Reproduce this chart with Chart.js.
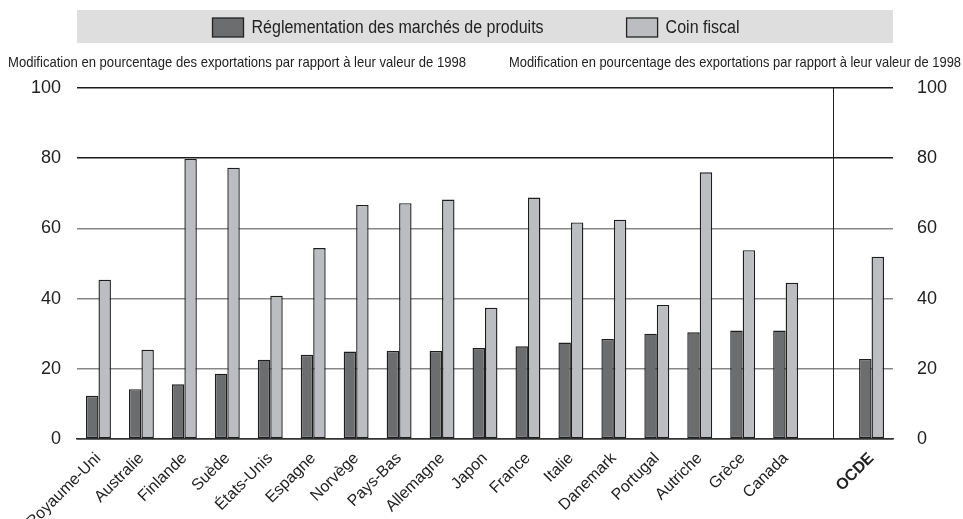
<!DOCTYPE html>
<html lang="fr">
<head>
<meta charset="UTF-8">
<title>Réglementation des marchés de produits et coin fiscal</title>
<script src="https://cdn.jsdelivr.net/npm/chart.js"></script>
<style>
  html, body { margin: 0; padding: 0; background: #fff; }
</style>
</head>
<body>
<canvas id="graphique" width="963" height="519"></canvas>
<script>
// Données : variation des exportations (% par rapport à 1998)
const pays = ['Royaume-Uni', 'Australie', 'Finlande', 'Suède', 'États-Unis', 'Espagne', 'Norvège',
  'Pays-Bas', 'Allemagne', 'Japon', 'France', 'Italie', 'Danemark', 'Portugal', 'Autriche',
  'Grèce', 'Canada', '', 'OCDE'];
const reglementation = [12.3, 14.2, 15.6, 18.6, 22.6, 24.0, 24.9, 25.1, 25.1, 25.9, 26.4, 27.5,
  28.5, 30.0, 30.4, 30.9, 30.9, null, 22.8];
const coinFiscal = [45.4, 25.4, 79.8, 77.3, 40.8, 54.4, 66.7, 67.2, 68.2, 37.4, 68.8, 61.7,
  62.5, 38.2, 76.0, 53.8, 44.5, null, 51.9];
const graduations = [0, 20, 40, 60, 80, 100];
const series = ['Réglementation des marchés de produits', 'Coin fiscal'];
const titreAxe = 'Modification en pourcentage des exportations par rapport à leur valeur de 1998';

const police = "'Liberation Sans', Arial, sans-serif";

// texte resserré horizontalement (police étroite simulée)
function texteEtroit(ctx, texte, x, y, taille, largeurVoulue, align) {
  ctx.font = taille + 'px ' + police;
  const k = largeurVoulue / ctx.measureText(texte).width;
  ctx.save();
  ctx.translate(x, y);
  ctx.scale(k, 1);
  ctx.textAlign = align;
  ctx.fillText(texte, 0, 0);
  ctx.restore();
}

// Bandeau gris de la légende + titres des deux axes
const legendeEtTitres = {
  id: 'legendeEtTitres',
  beforeDraw(chart) {
    const { ctx, chartArea } = chart;
    ctx.save();
    ctx.fillStyle = '#dedede';
    ctx.fillRect(chartArea.left, 10, chartArea.right - chartArea.left, 33);

    ctx.font = '18px ' + police;
    ctx.textBaseline = 'middle';
    const carre = 31, ecart = 8, espace = 83, serrage = 0.89;
    const items = chart.data.datasets.map(ds => ({ label: ds.label, couleur: ds.backgroundColor }));
    const textes = items.map(it => ctx.measureText(it.label).width * serrage);
    const total = textes.reduce((a, b) => a + b + carre + ecart, 0) + espace * (items.length - 1);
    let x = (chartArea.left + chartArea.right) / 2 - total / 2 - 9;
    items.forEach((it, i) => {
      ctx.fillStyle = it.couleur;
      ctx.fillRect(x, 18, carre, 19);
      ctx.strokeStyle = '#222';
      ctx.lineWidth = 1.3;
      ctx.strokeRect(x, 18, carre, 19);
      ctx.fillStyle = '#222';
      texteEtroit(ctx, it.label, x + carre + ecart, 28, 18, textes[i], 'left');
      x += carre + ecart + textes[i] + espace;
    });

    ctx.textBaseline = 'alphabetic';
    ctx.fillStyle = '#222';
    texteEtroit(ctx, titreAxe, 8, 67, 15, 458, 'left');
    texteEtroit(ctx, titreAxe, 961, 67, 15, 452, 'right');
    ctx.restore();
  }
};

// Trait vertical séparant la moyenne OCDE des pays
const separateur = {
  id: 'separateur',
  beforeDatasetsDraw(chart) {
    const { ctx, chartArea, scales } = chart;
    const x = Math.round(scales.x.getPixelForValue(17.1)) + 0.5;
    ctx.save();
    ctx.strokeStyle = '#222';
    ctx.lineWidth = 1;
    ctx.beginPath();
    ctx.moveTo(x, chartArea.top);
    ctx.lineTo(x, chartArea.bottom);
    ctx.stroke();
    ctx.restore();
  }
};

const axeY = (position, largeur) => ({
  position: position,
  min: graduations[0],
  max: graduations[graduations.length - 1],
  afterFit: scale => { scale.width = largeur; },
  afterBuildTicks: scale => { scale.ticks = graduations.map(v => ({ value: v })); },
  border: { display: false },
  grid: position === 'left' ? {
    drawTicks: false,
    lineWidth: 1.5,
    color: c => c.tick.value >= 80 ? '#1c1c1c' : (c.tick.value === 0 ? '#333' : '#878787')
  } : { display: false },
  ticks: {
    padding: 16,
    color: '#222',
    font: { family: police, size: 18 }
  }
});

new Chart(document.getElementById('graphique'), {
  type: 'bar',
  data: {
    labels: pays,
    datasets: [
      {
        label: series[0],
        data: reglementation,
        backgroundColor: '#6c6d6f',
        borderColor: '#1e1e1e',
        borderWidth: 1.4,
        borderSkipped: false,
        categoryPercentage: 0.58,
        barPercentage: 1.0
      },
      {
        label: series[1],
        data: coinFiscal,
        backgroundColor: '#bcbdc1',
        borderColor: '#1e1e1e',
        borderWidth: 1.4,
        borderSkipped: false,
        categoryPercentage: 0.58,
        barPercentage: 1.0
      }
    ]
  },
  options: {
    responsive: false,
    animation: false,
    devicePixelRatio: 1,
    layout: { padding: { top: 88, left: 0, right: 0, bottom: 0 } },
    plugins: {
      legend: { display: false },
      tooltip: { enabled: false }
    },
    scales: {
      x: {
        afterFit: scale => { scale.height = 80; },
        grid: { display: false },
        border: { display: true, color: '#333', width: 1.5 },
        ticks: {
          autoSkip: false,
          maxRotation: 45,
          minRotation: 45,
          padding: 2,
          color: '#222',
          font: c => ({
            family: police,
            size: 16,
            weight: pays[c.index] === 'OCDE' ? 'bold' : 'normal'
          })
        }
      },
      y: axeY('left', 77),
      y2: axeY('right', 70)
    }
  },
  plugins: [legendeEtTitres, separateur]
});
</script>
</body>
</html>
